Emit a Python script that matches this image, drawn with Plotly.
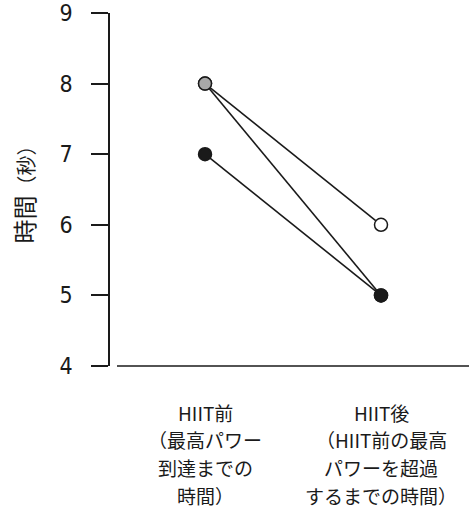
import plotly.graph_objects as go

# Conditions on the x axis and recorded times (seconds)
conditions = [1, 2]
before_label = ["HIIT前", "（最高パワー", "到達までの", "時間）"]
after_label = ["HIIT後", "（HIIT前の最高", "パワーを超過", "するまでの時間）"]
subject_a = [8, 6]   # white marker at end
subject_b = [8, 5]   # grey marker
subject_c = [7, 5]   # black marker
y_ticks = [4, 5, 6, 7, 8, 9]

FONT = "Noto Sans CJK JP"
NUM_FONT = "DejaVu Sans Condensed"

fig = go.Figure()

series = [
    (subject_a, ["#a8a8a8", "#ffffff"]),
    (subject_b, ["#a8a8a8", "#1a1a1a"]),
    (subject_c, ["#1a1a1a", "#1a1a1a"]),
]
for vals, fills in series:
    fig.add_trace(go.Scatter(
        x=conditions, y=vals, mode="lines+markers",
        line=dict(color="#1a1a1a", width=1.6),
        marker=dict(size=13, color=fills, line=dict(color="#1a1a1a", width=1.5)),
        showlegend=False, cliponaxis=False,
    ))

fig.update_layout(
    width=469, height=508,
    margin=dict(l=110, r=0, t=13, b=142),
    plot_bgcolor="white", paper_bgcolor="white",
    xaxis=dict(range=[0.46, 2.5], showgrid=False, zeroline=False,
               showticklabels=False, ticks="", showline=False, fixedrange=True),
    yaxis=dict(range=[4, 9], tickvals=y_ticks, showgrid=False, zeroline=False,
               showline=True, linecolor="#1a1a1a", linewidth=1.6,
               ticks="outside", ticklen=17, tickwidth=1.6, tickcolor="#1a1a1a",
               ticklabelstandoff=14,
               tickfont=dict(family=NUM_FONT, size=23, color="#1a1a1a")),
)

# Baseline of the plot, detached slightly from the y axis
fig.add_shape(type="line", xref="paper", yref="paper", x0=7 / 359, x1=1, y0=0, y1=0,
              line=dict(color="#1a1a1a", width=1.6))

# Multi-line category labels under the baseline
plot_top, plot_h = 13, 508 - 13 - 142
for x, lines in zip(conditions, [before_label, after_label]):
    for i, txt in enumerate(lines):
        row = 412 + 27.7 * i
        fig.add_annotation(x=x, xref="x", y=1 - (row - plot_top) / plot_h, yref="paper",
                           text=txt, showarrow=False,
                           font=dict(family=FONT, size=19, color="#1a1a1a"),
                           xanchor="center", yanchor="middle")

fig.add_annotation(
    x=0, xref="paper", xshift=-110 + 23, y=0.5, yref="paper", yshift=0,
    text="時間<span style='font-size:20px'>（秒）</span>", textangle=-90,
    showarrow=False, font=dict(family=FONT, size=24, color="#1a1a1a"),
    xanchor="center", yanchor="middle",
)

fig.write_html("out.html")
